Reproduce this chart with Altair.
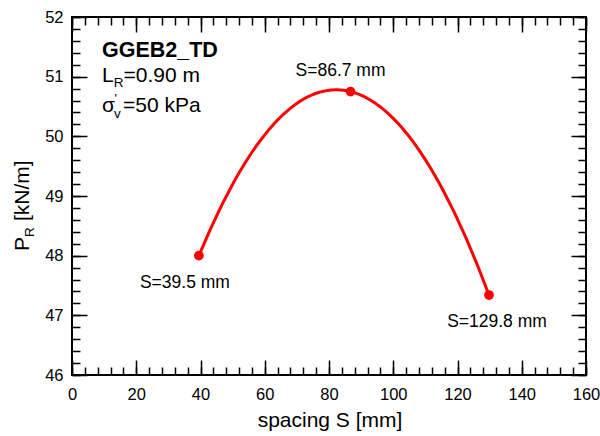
import altair as alt
import pandas as pd

# ---- data ----
S = [39.5, 86.7, 129.8]
PR = [48.0, 50.75, 47.34]
pt_labels = ["S=39.5 mm", "S=86.7 mm", "S=129.8 mm"]

x_major = [0, 20, 40, 60, 80, 100, 120, 140, 160]
x_minor = [0, 4, 8, 12, 16, 20, 24, 28, 32, 36, 40, 44, 48, 52, 56, 60, 64, 68, 72, 76,
           80, 84, 88, 92, 96, 100, 104, 108, 112, 116, 120, 124, 128, 132, 136, 140,
           144, 148, 152, 156, 160]
y_major = [46, 47, 48, 49, 50, 51, 52]
y_minor = [46.0, 46.2, 46.4, 46.6, 46.8, 47.0, 47.2, 47.4, 47.6, 47.8, 48.0, 48.2, 48.4,
           48.6, 48.8, 49.0, 49.2, 49.4, 49.6, 49.8, 50.0, 50.2, 50.4, 50.6, 50.8, 51.0,
           51.2, 51.4, 51.6, 51.8, 52.0]

title_text = ["GGEB2_TD"]
lr_text = ["L", "R", "=0.90 m"]
sig_text = ["\u03c3", "'", "v", "=50 kPa"]
ytitle_text = ["P", "R", "[kN/m]"]
xtitle_text = ["spacing S [mm]"]

df = pd.DataFrame({"S": S, "PR": PR, "label": pt_labels})

FONT = "Liberation Sans"
RED = "#ff0000"
xscale = alt.Scale(domain=[0, 160], nice=False, zero=False)
yscale = alt.Scale(domain=[46, 52], nice=False, zero=False)


def tick_axis(orient, values, size):
    return alt.Axis(orient=orient, values=values, labels=False, ticks=True,
                    tickSize={"expr": str(-size)}, tickWidth=1.5, tickColor="black",
                    domain=False, grid=False, title=None)


x_lab_axis = alt.Axis(orient="bottom", values=x_major, ticks=False, tickSize=0,
                      labelPadding=11, labelFlush=False, labelOverlap=False,
                      labelFont=FONT, labelFontSize=16.5, labelColor="black",
                      domain=False, grid=False, title=None, format="d")
y_lab_axis = alt.Axis(orient="left", values=y_major, ticks=False, tickSize=0,
                      labelPadding=9, labelFlush=False, labelOverlap=False,
                      labelFont=FONT, labelFontSize=16.5, labelColor="black",
                      domain=False, grid=False, title=None, format="d")

base = alt.Chart(df)

line = base.transform_regression(
    on="S", regression="PR", method="poly", order=2
).mark_line(color=RED, strokeWidth=3).encode(
    x=alt.X("S:Q", scale=xscale, axis=x_lab_axis),
    y=alt.Y("PR:Q", scale=yscale, axis=y_lab_axis),
)

points = base.mark_circle(size=95, color=RED, opacity=1).encode(
    x=alt.X("S:Q", scale=xscale, axis=tick_axis("bottom", x_major, 15)),
    y=alt.Y("PR:Q", scale=yscale, axis=tick_axis("left", y_major, 15)),
)


def pt_label(value, dx, dy, xaxis, yaxis):
    return base.transform_filter(alt.datum.S == value).mark_text(
        font=FONT, fontSize=17.5, color="black", align="center",
        baseline="alphabetic", dx=dx, dy=dy
    ).encode(
        x=alt.X("S:Q", scale=xscale, axis=xaxis),
        y=alt.Y("PR:Q", scale=yscale, axis=yaxis),
        text="label:N",
    )


lab1 = pt_label(S[0], -14, 32, tick_axis("top", x_major, 15), tick_axis("right", y_major, 15))
lab2 = pt_label(S[1], -10, -16, tick_axis("bottom", x_minor, 8), tick_axis("left", y_minor, 8))
lab3 = pt_label(S[2], 8, 32, tick_axis("top", x_minor, 8), tick_axis("right", y_minor, 8))


def txt(s, x, y, size, weight="normal", angle=0, align="left"):
    return alt.Chart(alt.Data(values=[{"t": s}])).mark_text(
        font=FONT, fontSize=size, fontWeight=weight, angle=angle, align=align,
        baseline="alphabetic", color="black"
    ).encode(x=alt.value(x), y=alt.value(y), text="t:N")


annots = [
    txt(title_text[0], 30, 40, 21.5, "bold"),
    txt(lr_text[0], 30, 65, 21),
    txt(lr_text[1], 41.8, 70, 13.5),
    txt(lr_text[2], 51.5, 65, 21),
    txt(sig_text[0], 30, 95, 21),
    txt(sig_text[1], 42.5, 86, 13),
    txt(sig_text[2], 42, 101, 13.5),
    txt(sig_text[3], 51, 95, 21),
    txt(ytitle_text[0], -43, 234, 21, angle=270),
    txt(ytitle_text[1], -38.5, 220, 13.5, angle=270),
    txt(ytitle_text[2], -43, 204, 21, angle=270),
    txt(xtitle_text[0], 258, 410, 21, align="center"),
]

chart = alt.layer(line, points, lab1, lab2, lab3, *annots).resolve_axis(
    x="independent", y="independent"
).properties(
    width=514, height=358,
    padding={"left": 72, "top": 17, "right": 14, "bottom": 61},
    autosize=alt.AutoSizeParams(type="none"),
).configure_view(stroke="black", strokeWidth=2)

chart.save("out.html", embed_options={"renderer": "svg", "actions": False})
